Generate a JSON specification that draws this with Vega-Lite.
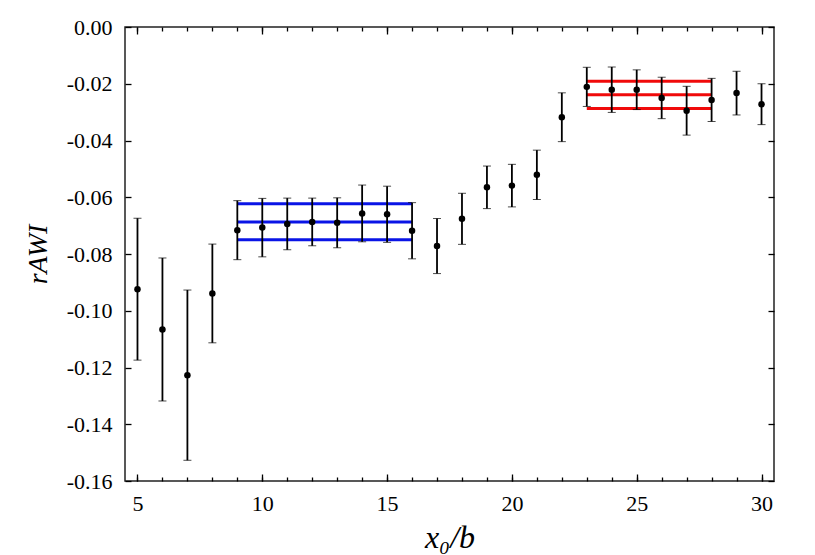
{
  "$schema": "https://vega.github.io/schema/vega-lite/v6.json",
  "width": 649,
  "height": 454,
  "autosize": "none",
  "padding": {"left": 125, "top": 27, "right": 41, "bottom": 74},
  "background": "white",
  "config": {
    "font": "Liberation Serif",
    "locale": {"number": {"decimal": ".", "thousands": ",", "grouping": [3], "currency": ["$", ""], "minus": "-"}},
    "view": {"stroke": "#222", "strokeWidth": 1.5},
    "style": {"guide-label": {"font": "Liberation Serif"}, "guide-title": {"font": "Liberation Serif"}},
    "axis": {
      "grid": false,
      "domain": false,
      "labelFont": "Liberation Serif",
      "labelFontSize": 22,
      "labelColor": "#000",
      "titleFont": "Liberation Serif",
      "titleColor": "#000",
      "titleFontWeight": "normal",
      "tickColor": "#000",
      "tickWidth": 1.3,
      "tickOpacity": 1
    }
  },
  "datasets": {
    "pts": [
      {"x": 5, "r": -0.0924, "err": 0.0250},
      {"x": 6, "r": -0.1066, "err": 0.0252},
      {"x": 7, "r": -0.1227, "err": 0.0300},
      {"x": 8, "r": -0.0939, "err": 0.0174},
      {"x": 9, "r": -0.0716, "err": 0.0104},
      {"x": 10, "r": -0.0707, "err": 0.0103},
      {"x": 11, "r": -0.0694, "err": 0.0091},
      {"x": 12, "r": -0.0687, "err": 0.0084},
      {"x": 13, "r": -0.0690, "err": 0.0088},
      {"x": 14, "r": -0.0657, "err": 0.0100},
      {"x": 15, "r": -0.0660, "err": 0.0099},
      {"x": 16, "r": -0.0718, "err": 0.0099},
      {"x": 17, "r": -0.0772, "err": 0.0097},
      {"x": 18, "r": -0.0676, "err": 0.0090},
      {"x": 19, "r": -0.0565, "err": 0.0075},
      {"x": 20, "r": -0.0559, "err": 0.0075},
      {"x": 21, "r": -0.0521, "err": 0.0087},
      {"x": 22, "r": -0.0318, "err": 0.0086},
      {"x": 23, "r": -0.0211, "err": 0.0069},
      {"x": 24, "r": -0.0221, "err": 0.0080},
      {"x": 25, "r": -0.0221, "err": 0.0070},
      {"x": 26, "r": -0.0250, "err": 0.0073},
      {"x": 27, "r": -0.0295, "err": 0.0086},
      {"x": 28, "r": -0.0257, "err": 0.0076},
      {"x": 29, "r": -0.0233, "err": 0.0077},
      {"x": 30, "r": -0.0272, "err": 0.0072}
    ],
    "blue": [
      {"x1": 9, "x2": 16, "v": -0.0623},
      {"x1": 9, "x2": 16, "v": -0.0687},
      {"x1": 9, "x2": 16, "v": -0.0750}
    ],
    "red": [
      {"x1": 23, "x2": 28, "v": -0.0191},
      {"x1": 23, "x2": 28, "v": -0.0239},
      {"x1": 23, "x2": 28, "v": -0.0287}
    ]
  },
  "layer": [
    {
      "data": {"name": "blue"},
      "mark": {"type": "rule", "color": "#0a14e6", "strokeWidth": 3},
      "encoding": {
        "x": {"field": "x1", "type": "quantitative", "scale": {"domain": [4.5, 30.5], "nice": false, "zero": false},
          "axis": {"orient": "bottom", "values": [5,6,7,8,9,10,11,12,13,14,15,16,17,18,19,20,21,22,23,24,25,26,27,28,29,30], "offset": -4, "tickSize": 4, "labels": false, "title": null}},
        "x2": {"field": "x2"},
        "y": {"field": "v", "type": "quantitative", "scale": {"domain": [-0.16, 0], "nice": false, "zero": false}, "axis": null}
      }
    },
    {
      "data": {"name": "red"},
      "mark": {"type": "rule", "color": "#f00a0a", "strokeWidth": 3},
      "encoding": {
        "x": {"field": "x1", "type": "quantitative",
          "axis": {"orient": "top", "values": [5,6,7,8,9,10,11,12,13,14,15,16,17,18,19,20,21,22,23,24,25,26,27,28,29,30], "offset": -4, "tickSize": 4, "labels": false, "title": null}},
        "x2": {"field": "x2"},
        "y": {"field": "v", "type": "quantitative", "axis": null}
      }
    },
    {
      "data": {"name": "pts"},
      "mark": {"type": "errorbar", "ticks": {"size": 8, "color": "#000", "strokeWidth": 1.8}, "rule": {"color": "#000", "strokeWidth": 1.8}},
      "encoding": {
        "x": {"field": "x", "type": "quantitative",
          "axis": {"orient": "bottom", "values": [5, 10, 15, 20, 25, 30], "offset": -7, "tickSize": 7, "labelPadding": 12, "labelFont": "Liberation Serif", "labelFontSize": 22, "title": "x₀/b", "titleFont": "Liberation Serif", "titleFontSize": 32, "titleFontStyle": "italic", "titlePadding": 8}},
        "y": {"field": "r", "type": "quantitative",
          "axis": {"orient": "left", "values": [0, -0.02, -0.04, -0.06, -0.08, -0.1, -0.12, -0.14, -0.16], "format": ".2f", "offset": -6, "tickSize": 6, "labelPadding": 13, "labelFont": "Liberation Serif", "labelFontSize": 22, "title": "rAWI", "titleFont": "Liberation Serif", "titleFontSize": 28, "titleFontStyle": "italic", "titlePadding": 14}},
        "yError": {"field": "err"}
      }
    },
    {
      "data": {"name": "pts"},
      "mark": {"type": "point", "filled": true, "size": 42, "color": "#000", "opacity": 1},
      "encoding": {
        "x": {"field": "x", "type": "quantitative",
          "axis": {"orient": "top", "values": [5, 10, 15, 20, 25, 30], "offset": -7, "tickSize": 7, "labels": false, "title": null}},
        "y": {"field": "r", "type": "quantitative",
          "axis": {"orient": "right", "values": [0, -0.02, -0.04, -0.06, -0.08, -0.1, -0.12, -0.14, -0.16], "offset": -6, "tickSize": 6, "labels": false, "title": null}}
      }
    }
  ],
  "resolve": {"axis": {"x": "independent", "y": "independent"}}
}
